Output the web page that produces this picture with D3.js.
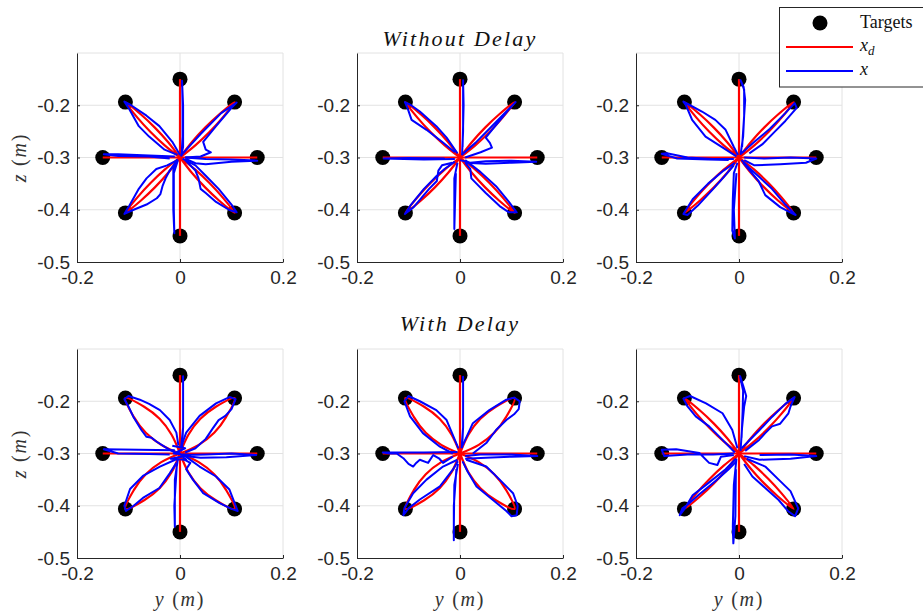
<!DOCTYPE html>
<html>
<head>
<meta charset="utf-8">
<script src="https://cdn.jsdelivr.net/npm/d3@7"></script>
<style>
  body { margin: 0; background: #fff; }
  svg { display: block; }
  .tick text { font-family: 'Liberation Sans', Arial, sans-serif; font-size: 19px; fill: #262626; }
  .tick line, .domain { stroke: #262626; }
  .latex { font-family: 'Liberation Serif', 'Times New Roman', serif; fill: #111; }
</style>
</head>
<body>
<svg id="chart" width="923" height="611"></svg>
<script>
// targets on the circle
const targetsY = [0, 0.106, 0.15, 0.106, 0, -0.106, -0.15, -0.106];
const targetsZ = [-0.15, -0.194, -0.3, -0.406, -0.45, -0.406, -0.3, -0.194];

const xTicks = [-0.2, 0, 0.2];
const yTicks = [-0.5, -0.4, -0.3, -0.2];
const xGrid = [0, 0.2];
const yGrid = [-0.4, -0.3, -0.2, -0.1];
const rowTitles = ['Without Delay', 'With Delay'];

// desired paths x_d (narrow leaves)
const desiredNarrow = [
  [[0, -0.3], [0, -0.15]],
  [[0, -0.3], [0, -0.45]],
  [[0, -0.3], [0.15, -0.3]],
  [[0, -0.3], [-0.15, -0.3]],
  [[0, -0.3], [0.0233, -0.2703], [0.0488, -0.2428], [0.0763, -0.2173], [0.106, -0.194], [0.0827, -0.2237], [0.0572, -0.2512], [0.0297, -0.2767], [0, -0.3]],
  [[0, -0.3], [-0.0233, -0.2703], [-0.0488, -0.2428], [-0.0763, -0.2173], [-0.106, -0.194], [-0.0827, -0.2237], [-0.0572, -0.2512], [-0.0297, -0.2767], [0, -0.3]],
  [[0, -0.3], [0.0297, -0.3233], [0.0572, -0.3488], [0.0827, -0.3763], [0.106, -0.406], [0.0763, -0.3827], [0.0488, -0.3572], [0.0233, -0.3297], [0, -0.3]],
  [[0, -0.3], [-0.0297, -0.3233], [-0.0572, -0.3488], [-0.0827, -0.3763], [-0.106, -0.406], [-0.0763, -0.3827], [-0.0488, -0.3572], [-0.0233, -0.3297], [0, -0.3]]
];

// desired paths x_d (wide leaves)
const desiredWide = [
  [[0, -0.3], [0, -0.15]],
  [[0, -0.3], [0, -0.45]],
  [[0, -0.3], [0.15, -0.3]],
  [[0, -0.3], [-0.15, -0.3]],
  [[0, -0.3], [0.0166, -0.2636], [0.0396, -0.2336], [0.0696, -0.2106], [0.106, -0.194], [0.0894, -0.2304], [0.0664, -0.2604], [0.0364, -0.2834], [0, -0.3]],
  [[0, -0.3], [-0.0166, -0.2636], [-0.0396, -0.2336], [-0.0696, -0.2106], [-0.106, -0.194], [-0.0894, -0.2304], [-0.0664, -0.2604], [-0.0364, -0.2834], [0, -0.3]],
  [[0, -0.3], [0.0364, -0.3166], [0.0664, -0.3396], [0.0894, -0.3696], [0.106, -0.406], [0.0696, -0.3894], [0.0396, -0.3664], [0.0166, -0.3364], [0, -0.3]],
  [[0, -0.3], [-0.0364, -0.3166], [-0.0664, -0.3396], [-0.0894, -0.3696], [-0.106, -0.406], [-0.0696, -0.3894], [-0.0396, -0.3664], [-0.0166, -0.3364], [0, -0.3]]
];

// measured paths x, one array per panel
const actualTL = [
  [[0.003, -0.297], [0.005, -0.26], [0.005, -0.2], [0.004, -0.153], [0.006, -0.2], [0.006, -0.28], [0.002, -0.298]],
  [[-0.004, -0.305], [-0.012, -0.33], [-0.012, -0.4], [-0.011, -0.445], [-0.013, -0.4], [-0.013, -0.32], [-0.005, -0.303]],
  [[-0.01, -0.298], [-0.06, -0.296], [-0.12, -0.294], [-0.148, -0.294], [-0.12, -0.297], [-0.06, -0.298], [-0.02, -0.302]],
  [[0.01, -0.302], [0.03, -0.311], [0.05, -0.313], [0.1, -0.308], [0.15, -0.306], [0.1, -0.304], [0.05, -0.303], [0.01, -0.3]],
  [[0.003, -0.295], [0.04, -0.255], [0.08, -0.215], [0.11, -0.195], [0.1, -0.205], [0.07, -0.24], [0.045, -0.27], [0.05, -0.285], [0.06, -0.29], [0.04, -0.298], [0.01, -0.3]],
  [[-0.005, -0.295], [-0.03, -0.285], [-0.06, -0.26], [-0.08, -0.24], [-0.1, -0.205], [-0.108, -0.193], [-0.095, -0.2], [-0.065, -0.22], [-0.04, -0.24], [-0.015, -0.27], [0, -0.295]],
  [[-0.005, -0.305], [-0.025, -0.315], [-0.046, -0.322], [-0.065, -0.34], [-0.08, -0.36], [-0.1, -0.395], [-0.108, -0.408], [-0.09, -0.4], [-0.065, -0.39], [-0.045, -0.378], [-0.038, -0.37], [-0.034, -0.355], [-0.028, -0.34], [-0.02, -0.325], [-0.005, -0.305]],
  [[0.005, -0.302], [0.03, -0.315], [0.05, -0.335], [0.075, -0.36], [0.1, -0.39], [0.11, -0.405], [0.095, -0.4], [0.07, -0.385], [0.05, -0.368], [0.04, -0.36], [0.036, -0.34], [0.03, -0.325], [0.01, -0.305]]
];

const actualTM = [
  [[0.004, -0.295], [0.006, -0.25], [0.006, -0.2], [0.006, -0.152], [0.007, -0.2], [0.005, -0.28]],
  [[-0.005, -0.31], [-0.011, -0.34], [-0.011, -0.4], [-0.011, -0.437], [-0.01, -0.4], [-0.008, -0.33]],
  [[-0.01, -0.303], [-0.07, -0.304], [-0.148, -0.302], [-0.1, -0.301], [-0.03, -0.302]],
  [[0.01, -0.31], [0.05, -0.312], [0.1, -0.31], [0.148, -0.308], [0.1, -0.306], [0.05, -0.307], [0.02, -0.31], [0, -0.305]],
  [[0.003, -0.295], [0.03, -0.272], [0.06, -0.242], [0.09, -0.212], [0.108, -0.194], [0.095, -0.208], [0.065, -0.244], [0.05, -0.262], [0.058, -0.272], [0.062, -0.281], [0.04, -0.29], [0.01, -0.3]],
  [[-0.01, -0.29], [-0.035, -0.27], [-0.065, -0.247], [-0.094, -0.228], [-0.102, -0.205], [-0.107, -0.194], [-0.095, -0.2], [-0.078, -0.212], [-0.046, -0.24], [-0.026, -0.262], [-0.005, -0.292]],
  [[-0.01, -0.308], [-0.03, -0.322], [-0.045, -0.335], [-0.07, -0.36], [-0.095, -0.39], [-0.107, -0.408], [-0.09, -0.395], [-0.06, -0.36], [-0.045, -0.345], [-0.042, -0.325], [-0.035, -0.315], [-0.015, -0.31]],
  [[0.01, -0.305], [0.04, -0.328], [0.07, -0.355], [0.095, -0.385], [0.11, -0.405], [0.095, -0.405], [0.077, -0.393], [0.05, -0.368], [0.032, -0.35], [0.022, -0.34], [0.02, -0.322], [0.01, -0.31]]
];

const actualTR = [
  [[0.003, -0.295], [0.008, -0.26], [0.01, -0.22], [0.012, -0.19], [0.009, -0.165], [0.003, -0.152], [0.01, -0.17], [0.01, -0.22], [0.006, -0.28]],
  [[-0.003, -0.31], [-0.01, -0.33], [-0.012, -0.38], [-0.013, -0.44], [-0.008, -0.455], [-0.01, -0.4], [-0.005, -0.33]],
  [[-0.01, -0.303], [-0.05, -0.303], [-0.1, -0.3], [-0.14, -0.292], [-0.15, -0.293], [-0.12, -0.302], [-0.06, -0.304], [-0.02, -0.305]],
  [[0.01, -0.305], [0.03, -0.315], [0.08, -0.313], [0.13, -0.31], [0.15, -0.302], [0.1, -0.3], [0.05, -0.302], [0.01, -0.3]],
  [[0.005, -0.292], [0.03, -0.27], [0.06, -0.245], [0.09, -0.215], [0.108, -0.196], [0.112, -0.205], [0.09, -0.23], [0.07, -0.25], [0.045, -0.275], [0.02, -0.292]],
  [[-0.005, -0.298], [-0.033, -0.28], [-0.065, -0.26], [-0.091, -0.228], [-0.103, -0.2], [-0.108, -0.193], [-0.095, -0.2], [-0.072, -0.212], [-0.046, -0.228], [-0.026, -0.247], [-0.01, -0.28], [-0.002, -0.295]],
  [[-0.008, -0.31], [-0.03, -0.325], [-0.06, -0.35], [-0.09, -0.38], [-0.108, -0.408], [-0.1, -0.41], [-0.08, -0.392], [-0.05, -0.36], [-0.03, -0.338], [-0.01, -0.315]],
  [[0.008, -0.31], [0.025, -0.33], [0.038, -0.345], [0.051, -0.372], [0.08, -0.395], [0.105, -0.408], [0.11, -0.41], [0.09, -0.39], [0.064, -0.36], [0.04, -0.338], [0.02, -0.32], [0.005, -0.305]]
];

const actualBL = [
  [[0.004, -0.29], [0.006, -0.25], [0.006, -0.152], [0.006, -0.25], [0.002, -0.29]],
  [[-0.004, -0.31], [-0.01, -0.35], [-0.01, -0.44], [-0.011, -0.4], [-0.006, -0.32]],
  [[-0.01, -0.294], [-0.08, -0.293], [-0.148, -0.292], [-0.12, -0.3], [-0.06, -0.301], [-0.02, -0.302]],
  [[0.01, -0.305], [0.04, -0.308], [0.09, -0.307], [0.148, -0.303], [0.1, -0.3], [0.05, -0.302], [0.01, -0.303]],
  [[0.003, -0.285], [0.012, -0.26], [0.038, -0.228], [0.07, -0.204], [0.096, -0.192], [0.108, -0.196], [0.1, -0.215], [0.088, -0.228], [0.075, -0.236], [0.063, -0.253], [0.05, -0.272], [0.03, -0.29], [0.01, -0.298]],
  [[-0.003, -0.285], [-0.007, -0.26], [-0.02, -0.236], [-0.039, -0.217], [-0.06, -0.205], [-0.078, -0.197], [-0.1, -0.19], [-0.108, -0.196], [-0.1, -0.21], [-0.091, -0.229], [-0.075, -0.255], [-0.065, -0.268], [-0.055, -0.27], [-0.046, -0.277], [-0.02, -0.293], [-0.005, -0.3]],
  [[-0.005, -0.31], [-0.039, -0.325], [-0.072, -0.343], [-0.097, -0.368], [-0.108, -0.4], [-0.105, -0.41], [-0.09, -0.4], [-0.072, -0.385], [-0.04, -0.366], [-0.02, -0.338], [-0.007, -0.318]],
  [[0.01, -0.305], [0.038, -0.325], [0.07, -0.344], [0.096, -0.369], [0.112, -0.41], [0.1, -0.406], [0.077, -0.395], [0.045, -0.376], [0.025, -0.35], [0.012, -0.33], [0.02, -0.318], [0.005, -0.31]],
  [[-0.015, -0.285], [0.01, -0.29], [-0.012, -0.3], [0.02, -0.303], [-0.018, -0.31], [0.012, -0.312], [-0.005, -0.296]]
];

const actualBM = [
  [[0.004, -0.29], [0.006, -0.25], [0.006, -0.153], [0.006, -0.25], [0.003, -0.29]],
  [[-0.004, -0.32], [-0.011, -0.36], [-0.012, -0.44], [-0.012, -0.466], [-0.012, -0.4], [-0.007, -0.33]],
  [[-0.005, -0.297], [-0.07, -0.298], [-0.15, -0.298], [-0.135, -0.3], [-0.123, -0.3], [-0.11, -0.309], [-0.1, -0.32], [-0.091, -0.325], [-0.085, -0.318], [-0.078, -0.312], [-0.062, -0.318], [-0.052, -0.303], [-0.04, -0.31], [-0.033, -0.318], [-0.014, -0.306]],
  [[0.01, -0.31], [0.05, -0.308], [0.1, -0.306], [0.15, -0.305], [0.1, -0.302], [0.04, -0.302], [0.01, -0.305]],
  [[0.005, -0.285], [0.025, -0.242], [0.057, -0.217], [0.09, -0.197], [0.105, -0.193], [0.116, -0.2], [0.114, -0.215], [0.105, -0.225], [0.09, -0.236], [0.07, -0.255], [0.051, -0.28], [0.025, -0.3]],
  [[-0.003, -0.29], [-0.01, -0.274], [-0.026, -0.236], [-0.046, -0.217], [-0.078, -0.2], [-0.1, -0.19], [-0.108, -0.2], [-0.097, -0.229], [-0.072, -0.261], [-0.039, -0.287], [-0.014, -0.3]],
  [[-0.005, -0.312], [-0.033, -0.325], [-0.065, -0.35], [-0.091, -0.376], [-0.108, -0.405], [-0.11, -0.418], [-0.1, -0.405], [-0.078, -0.388], [-0.039, -0.363], [-0.014, -0.331], [-0.004, -0.315]],
  [[0.012, -0.312], [0.051, -0.325], [0.077, -0.35], [0.103, -0.376], [0.112, -0.4], [0.11, -0.418], [0.1, -0.42], [0.09, -0.41], [0.064, -0.389], [0.032, -0.363], [0.015, -0.335], [0.005, -0.315]]
];

const actualBR = [
  [[0.003, -0.295], [0.006, -0.25], [0.01, -0.21], [0.014, -0.19], [0.008, -0.17], [0.002, -0.152], [0.008, -0.18], [0.007, -0.22], [0.005, -0.27]],
  [[-0.005, -0.31], [-0.01, -0.36], [-0.012, -0.44], [-0.011, -0.472], [-0.007, -0.42], [-0.006, -0.33]],
  [[-0.01, -0.303], [-0.035, -0.306], [-0.042, -0.322], [-0.058, -0.318], [-0.077, -0.299], [-0.122, -0.292], [-0.15, -0.293], [-0.145, -0.305], [-0.1, -0.302], [-0.05, -0.302], [-0.01, -0.3]],
  [[0.01, -0.305], [0.04, -0.312], [0.1, -0.31], [0.15, -0.305], [0.1, -0.302], [0.04, -0.303]],
  [[0.005, -0.29], [0.039, -0.256], [0.064, -0.23], [0.09, -0.205], [0.108, -0.192], [0.1, -0.21], [0.096, -0.223], [0.08, -0.243], [0.064, -0.248], [0.05, -0.262], [0.039, -0.274], [0.012, -0.295]],
  [[-0.003, -0.29], [-0.013, -0.255], [-0.032, -0.223], [-0.064, -0.204], [-0.095, -0.19], [-0.108, -0.195], [-0.1, -0.21], [-0.084, -0.229], [-0.058, -0.248], [-0.032, -0.274], [-0.008, -0.298]],
  [[-0.006, -0.31], [-0.026, -0.33], [-0.064, -0.36], [-0.09, -0.38], [-0.105, -0.405], [-0.115, -0.418], [-0.11, -0.405], [-0.1, -0.398], [-0.077, -0.378], [-0.045, -0.352], [-0.02, -0.33], [-0.005, -0.315]],
  [[0.015, -0.31], [0.051, -0.325], [0.077, -0.35], [0.1, -0.372], [0.115, -0.405], [0.109, -0.42], [0.095, -0.41], [0.077, -0.389], [0.051, -0.366], [0.026, -0.344], [0.01, -0.32]]
];

const panels = [
  { row: 0, col: 0, desired: desiredNarrow, actual: actualTL },
  { row: 0, col: 1, desired: desiredNarrow, actual: actualTM },
  { row: 0, col: 2, desired: desiredNarrow, actual: actualTR },
  { row: 1, col: 0, desired: desiredWide, actual: actualBL },
  { row: 1, col: 1, desired: desiredWide, actual: actualBM },
  { row: 1, col: 2, desired: desiredNarrow, actual: actualBR }
];

// layout
const colX = [77, 357, 636];
const rowY = [53, 349];
const pw = 206, ph = 209;

const svg = d3.select('#chart');
const fmt = d => d === 0 ? '0' : d.toFixed(1);

panels.forEach((p, i) => {
  const left = colX[p.col], top = rowY[p.row];
  const x = d3.scaleLinear().domain([-0.2, 0.2]).range([left, left + pw]);
  const y = d3.scaleLinear().domain([-0.5, -0.1]).range([top + ph, top]);

  const g = svg.append('g');

  // grid
  g.selectAll('.hgrid').data(yGrid).enter().append('line')
    .attr('x1', left).attr('x2', left + pw)
    .attr('y1', d => y(d)).attr('y2', d => y(d))
    .attr('stroke', '#e2e2e2').attr('stroke-width', 1);
  g.selectAll('.vgrid').data(xGrid).enter().append('line')
    .attr('x1', d => x(d)).attr('x2', d => x(d))
    .attr('y1', top).attr('y2', top + ph)
    .attr('stroke', '#e2e2e2').attr('stroke-width', 1);

  // axes
  g.append('g')
    .attr('transform', 'translate(' + left + ',0)')
    .call(d3.axisLeft(y).tickValues(yTicks).tickFormat(fmt).tickSize(-3).tickSizeOuter(0).tickPadding(7));
  g.append('g')
    .attr('transform', 'translate(0,' + (top + ph) + ')')
    .call(d3.axisBottom(x).tickValues(xTicks).tickFormat(fmt).tickSize(-3).tickSizeOuter(0).tickPadding(9));

  svg.append('clipPath').attr('id', 'clip' + i)
    .append('rect').attr('x', left).attr('y', top).attr('width', pw).attr('height', ph);

  const plot = svg.append('g').attr('clip-path', 'url(#clip' + i + ')');

  // targets
  plot.selectAll('.target').data(targetsY).enter().append('circle')
    .attr('cx', d => x(d))
    .attr('cy', (d, k) => y(targetsZ[k]))
    .attr('r', 7.5)
    .attr('fill', '#000');

  const lineRed = d3.line().x(d => x(d[0])).y(d => y(d[1])).curve(d3.curveCatmullRom.alpha(0.5));
  const lineBlue = d3.line().x(d => x(d[0])).y(d => y(d[1]));

  plot.selectAll('.xd').data(p.desired).enter().append('path')
    .attr('d', lineRed)
    .attr('fill', 'none').attr('stroke', '#ff0000').attr('stroke-width', 2.2);

  plot.selectAll('.xa').data(p.actual).enter().append('path')
    .attr('d', lineBlue)
    .attr('fill', 'none').attr('stroke', '#0000ff').attr('stroke-width', 2)
    .attr('stroke-linejoin', 'round');
});

// row titles
rowTitles.forEach((t, r) => {
  svg.append('text')
    .attr('class', 'latex')
    .attr('x', colX[1] + pw / 2)
    .attr('y', r === 0 ? 46 : 331)
    .attr('text-anchor', 'middle')
    .attr('font-size', 22)
    .attr('font-style', 'italic')
    .attr('letter-spacing', 2.2)
    .text(t);
});

// axis labels
function mathLabel(sel, v) {
  sel.append('tspan').attr('font-style', 'italic').text(v);
  sel.append('tspan').text(' (');
  sel.append('tspan').attr('font-style', 'italic').text('m');
  sel.append('tspan').text(')');
}
rowY.forEach(top => {
  const t = svg.append('text')
    .attr('class', 'latex')
    .attr('transform', 'translate(26,' + (top + ph / 2) + ') rotate(-90)')
    .attr('text-anchor', 'middle')
    .attr('font-size', 20)
    .attr('letter-spacing', 1.8)
    .style('fill', '#333');
  mathLabel(t, 'z');
});
colX.forEach(left => {
  const t = svg.append('text')
    .attr('class', 'latex')
    .attr('x', left + pw / 2)
    .attr('y', 606)
    .attr('text-anchor', 'middle')
    .attr('font-size', 20)
    .attr('letter-spacing', 1.8)
    .style('fill', '#333');
  mathLabel(t, 'y');
});

// legend
const leg = svg.append('g');
leg.append('rect')
  .attr('x', 779.5).attr('y', 7.5).attr('width', 160).attr('height', 79.5)
  .attr('fill', '#fff').attr('stroke', '#262626').attr('stroke-width', 1);
leg.append('circle').attr('cx', 820).attr('cy', 23).attr('r', 7.5).attr('fill', '#000');
leg.append('line').attr('x1', 786).attr('x2', 853).attr('y1', 47).attr('y2', 47)
  .attr('stroke', '#ff0000').attr('stroke-width', 2.2);
leg.append('line').attr('x1', 786).attr('x2', 853).attr('y1', 71).attr('y2', 71)
  .attr('stroke', '#0000ff').attr('stroke-width', 2);
leg.append('text').attr('class', 'latex').attr('x', 860).attr('y', 28)
  .attr('font-size', 18).text('Targets');
const xd = leg.append('text').attr('class', 'latex').attr('x', 860).attr('y', 51)
  .attr('font-size', 18);
xd.append('tspan').attr('font-style', 'italic').text('x');
xd.append('tspan').attr('font-style', 'italic').attr('font-size', 13).attr('dy', 4).text('d');
leg.append('text').attr('class', 'latex').attr('x', 860).attr('y', 75)
  .attr('font-size', 18).attr('font-style', 'italic').text('x');
</script>
</body>
</html>
